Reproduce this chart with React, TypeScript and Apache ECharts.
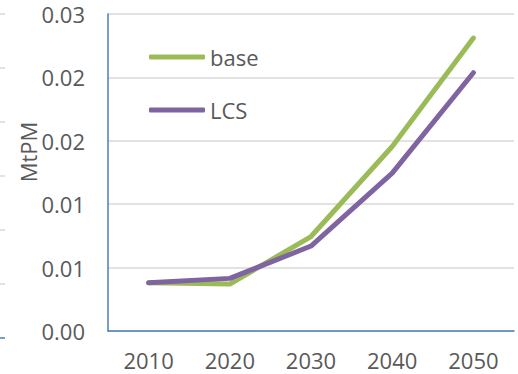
import React, { useEffect, useRef } from "react";
import * as echarts from "echarts";

// Years on the category axis
const years = ["2010", "2020", "2030", "2040", "2050"];

// Emissions per scenario (MtPM)
const baseValues = [0.0038, 0.0037, 0.00745, 0.01455, 0.0231];
const lcsValues = [0.0038, 0.00415, 0.0067, 0.01245, 0.02037];

// Value-axis labels, two decimals as shown on the axis
const yTickLabels = ["0.00", "0.01", "0.01", "0.02", "0.02", "0.03"];
const yStep = 0.005;

// Short gridline stubs at the left border (neighbouring panel)
const stubRows = [14, 68, 122, 176, 230, 284];

const FONT = "'Open Sans', 'DejaVu Sans', sans-serif";
const TEXT = "#595959";
const SIZE = 22;

export default function App() {
  const ref = useRef<HTMLDivElement>(null);

  useEffect(() => {
    if (!ref.current) return;
    const chart = echarts.init(ref.current, undefined, { renderer: "svg" });

    const stubs: any[] = stubRows.map((y) => ({
      type: "line",
      shape: { x1: 0, y1: y, x2: 5, y2: y },
      style: { stroke: "#d9d9d9", lineWidth: 1.5 },
      silent: true,
    }));
    stubs.push({
      type: "line",
      shape: { x1: 0, y1: 338, x2: 5, y2: 338 },
      style: { stroke: "#4a7ebb", lineWidth: 1.5 },
      silent: true,
    });

    chart.setOption({
      animation: false,
      backgroundColor: "#ffffff",
      textStyle: { fontFamily: FONT },
      grid: { left: 108, right: 4, top: 14, bottom: 43, containLabel: false },
      legend: {
        orient: "vertical",
        left: 144,
        top: 41,
        icon: "roundRect",
        itemWidth: 56,
        itemHeight: 5,
        itemGap: 31,
        data: ["base", "LCS"],
        textStyle: { color: TEXT, fontSize: SIZE, fontFamily: FONT },
      },
      xAxis: {
        type: "category",
        data: years,
        boundaryGap: true,
        axisLine: { lineStyle: { color: "#4a7ebb", width: 1.5 } },
        axisTick: { show: false },
        axisLabel: {
          color: TEXT,
          fontSize: SIZE,
          lineHeight: 18,
          fontFamily: FONT,
          margin: 20,
        },
        splitLine: { show: false },
      },
      yAxis: {
        type: "value",
        min: 0,
        max: yStep * (yTickLabels.length - 1),
        interval: yStep,
        axisLine: { show: true, lineStyle: { color: "#4a7ebb", width: 1.5 } },
        axisTick: { show: false },
        axisLabel: {
          color: TEXT,
          fontSize: SIZE,
          fontFamily: FONT,
          margin: 23,
          formatter: (v: number) => yTickLabels[Math.round(v / yStep)] ?? "",
        },
        splitLine: { lineStyle: { color: "#d9d9d9", width: 1.5 } },
      },
      graphic: [
        ...stubs,
        {
          type: "text",
          x: 28,
          y: 152,
          rotation: Math.PI / 2,
          style: {
            text: "MtPM",
            fill: TEXT,
            font: `${SIZE}px ${FONT}`,
            align: "center",
            verticalAlign: "middle",
          },
          silent: true,
        },
      ],
      series: [
        {
          name: "base",
          type: "line",
          data: baseValues,
          symbol: "none",
          color: "#9bbb59",
          lineStyle: { width: 5, color: "#9bbb59", cap: "round", join: "round" },
          z: 2,
        },
        {
          name: "LCS",
          type: "line",
          data: lcsValues,
          symbol: "none",
          color: "#8064a2",
          lineStyle: { width: 5, color: "#8064a2", cap: "round", join: "round" },
          z: 3,
        },
      ],
    });

    return () => chart.dispose();
  }, []);

  return (
    <div
      ref={ref}
      style={{ position: "fixed", left: 0, top: 0, width: 518, height: 374 }}
    />
  );
}
